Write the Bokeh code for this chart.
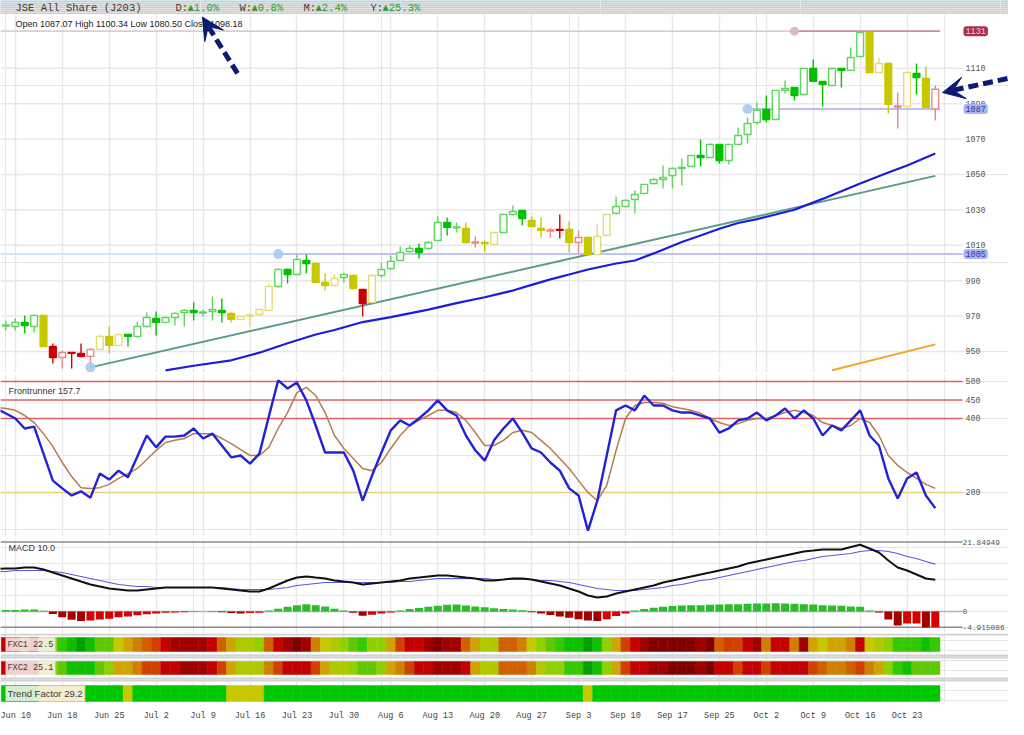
import numpy as np
from bokeh.plotting import figure
from bokeh.layouts import column
from bokeh.models import (Range1d, LinearAxis, FixedTicker, Label, Arrow, VeeHead,
                          Span, Grid)
from bokeh.embed import file_html
from bokeh.resources import INLINE
from bokeh.core.properties import value

# ---------------- data ----------------
tick_bars = [1, 6, 11, 16, 21, 26, 31, 36, 41, 46, 51, 56, 61, 66, 71, 76, 81, 86, 91, 96]
tick_labels = ["Jun 10", "Jun 18", "Jun 25", "Jul 2", "Jul 9", "Jul 16", "Jul 23", "Jul 30",
               "Aug 6", "Aug 13", "Aug 20", "Aug 27", "Sep 3", "Sep 10", "Sep 17", "Sep 25",
               "Oct 2", "Oct 9", "Oct 16", "Oct 23"]

opens = [964.7, 964.1, 966.4, 964.1, 970.3, 952.8, 946.6, 949.4, 948.9, 947.2,
         951.1, 958.5, 953.4, 959.6, 958.5, 964.1, 968.6, 966.4, 969.2, 972.0,
         973.2, 972.0, 972.6, 973.2, 971.5, 968.1, 970.3, 970.9, 973.2, 986.7,
         996.3, 993.5, 1001.4, 999.7, 989.0, 987.3, 991.8, 992.9, 985.0, 977.7,
         992.9, 996.9, 1001.4, 1006.5, 1008.2, 1008.2, 1012.7, 1022.9, 1020.1, 1019.5,
         1011.6, 1011.6, 1010.5, 1017.2, 1027.4, 1029.7, 1024.0, 1019.5, 1018.4, 1018.9,
         1018.9, 1011.6, 1014.4, 1004.8, 1015.5, 1028.0, 1031.9, 1035.9, 1039.3, 1044.9,
         1047.2, 1049.4, 1053.4, 1054.5, 1060.7, 1059.6, 1067.0, 1057.9, 1067.0, 1072.6,
         1079.4, 1086.7, 1081.1, 1097.5, 1099.2, 1095.2, 1109.9, 1102.6, 1100.3, 1109.9,
         1108.8, 1116.7, 1130.2, 1107.6, 1112.7, 1088.4, 1088.4, 1107.1, 1104.2, 1087.07]
highs = [967.5, 968.6, 970.3, 970.9, 970.3, 954.5, 950.6, 949.5, 954.5, 951.7,
         959.6, 964.1, 960.2, 959.6, 966.9, 972.0, 972.6, 969.8, 972.0, 973.7,
         977.7, 973.7, 981.1, 979.9, 972.0, 969.8, 971.5, 973.7, 988.4, 996.9,
         996.9, 1004.8, 1004.8, 999.7, 994.1, 993.5, 994.1, 993.5, 985.0, 993.5,
         1000.3, 1004.2, 1009.3, 1009.9, 1011.0, 1012.2, 1026.3, 1025.7, 1022.9, 1022.9,
         1015.0, 1012.7, 1017.2, 1028.0, 1032.5, 1029.7, 1026.3, 1025.7, 1020.1, 1027.4,
         1023.5, 1018.4, 1015.0, 1022.3, 1027.4, 1037.6, 1035.9, 1041.0, 1044.4, 1047.7,
         1055.1, 1054.0, 1059.0, 1060.7, 1069.8, 1067.5, 1067.0, 1067.0, 1076.6, 1082.2,
         1090.7, 1094.6, 1097.5, 1103.1, 1099.2, 1109.9, 1115.0, 1102.6, 1110.5, 1109.9,
         1121.8, 1131.0, 1130.2, 1116.1, 1113.3, 1096.3, 1107.6, 1112.7, 1111.0, 1100.34]
lows = [961.9, 961.9, 960.2, 960.7, 952.8, 943.2, 940.4, 940.4, 946.6, 941.0,
        950.6, 948.9, 952.8, 952.8, 957.9, 963.6, 959.0, 965.8, 964.7, 964.1,
        967.5, 969.8, 967.5, 966.4, 966.4, 967.5, 964.1, 970.3, 972.6, 986.2,
        988.4, 993.5, 994.1, 989.0, 984.5, 986.7, 989.0, 985.0, 969.8, 977.1,
        991.8, 996.3, 1001.4, 1005.9, 1002.5, 1007.6, 1012.2, 1015.5, 1017.2, 1011.0,
        1008.8, 1005.9, 1010.5, 1017.2, 1026.8, 1021.2, 1020.6, 1014.4, 1014.4, 1013.8,
        1005.9, 1005.4, 1004.8, 1004.8, 1015.5, 1027.4, 1031.9, 1028.0, 1038.7, 1044.4,
        1042.1, 1042.1, 1043.8, 1054.5, 1054.5, 1059.6, 1056.2, 1055.7, 1066.4, 1067.5,
        1078.3, 1079.4, 1081.1, 1095.8, 1091.8, 1094.6, 1102.6, 1088.4, 1100.3, 1099.2,
        1108.8, 1116.7, 1107.6, 1107.1, 1084.5, 1076.0, 1088.4, 1095.2, 1087.9, 1080.50]
closes = [964.7, 966.4, 964.7, 970.3, 952.8, 946.6, 949.4, 948.9, 947.2, 951.1,
          958.5, 953.4, 959.6, 958.5, 964.1, 969.2, 966.4, 969.2, 971.5, 973.2,
          972.0, 972.0, 973.7, 972.0, 968.1, 969.8, 970.3, 973.7, 986.7, 996.3,
          993.5, 1002.0, 999.7, 989.0, 987.3, 991.2, 993.5, 985.6, 977.1, 992.9,
          996.3, 1000.9, 1005.9, 1008.2, 1005.9, 1011.6, 1022.9, 1020.1, 1020.1, 1011.6,
          1011.6, 1011.0, 1017.2, 1027.4, 1029.1, 1025.1, 1020.6, 1018.4, 1018.4, 1018.4,
          1011.6, 1014.4, 1004.8, 1015.0, 1027.4, 1031.9, 1035.3, 1038.7, 1044.4, 1047.2,
          1048.3, 1053.4, 1054.0, 1060.7, 1059.6, 1067.0, 1057.9, 1067.0, 1072.0, 1078.8,
          1086.2, 1081.1, 1097.5, 1098.6, 1094.6, 1109.9, 1102.6, 1100.9, 1109.9, 1108.8,
          1116.1, 1130.2, 1107.6, 1112.7, 1089.6, 1088.4, 1107.6, 1104.8, 1087.9, 1098.18]
candle_state = list("gggg" "y" "rrrrr" "yyy" "ggggggggggg" "yyyyy" "gggg" "yyy" "g" "y" "r" "y"
                    "ggggggggg" "y" "r" "yy" "ggg" "yy" "rr" "y" "r" "yyy" + "g" * 27 +
                    "yyy" "r" "y" "g" "y" "r")

ma_bars = [17, 20, 24, 27, 30, 33, 35, 38, 41, 45, 48, 51, 54, 56, 58, 60, 62, 65, 67,
           69, 72, 74, 76, 78, 80, 82, 84, 87, 89, 91, 94, 96, 99]
ma_vals = [939.3, 941.9, 945.0, 949.3, 954.6, 959.6, 962.1, 966.6, 969.4, 973.6, 977.3,
           980.6, 984.4, 987.6, 990.7, 993.5, 996.3, 999.7, 1001.4, 1005.4, 1011.8, 1015.5,
           1019.3, 1022.6, 1024.8, 1027.4, 1030.1, 1036.2, 1040.5, 1044.9, 1051.1, 1055.1, 1061.9]
trend_bars = [9, 99]
trend_vals = [941.0, 1049.2]
orange_bars = [88, 99]
orange_vals = [939.4, 954.0]
level_vals = [1131, 1087, 1005]
level_from = [84, 79, 29]
price_ticks = [950, 970, 990, 1010, 1030, 1050, 1070, 1090, 1110]

fr_bars = list(range(-1, 100))
fr_blue = [427, 413.5, 400, 373, 378, 305, 232, 211, 192, 203, 186,
           251, 235, 259, 241, 297, 354, 322, 351, 351, 354,
           373, 346, 359, 327, 295, 300, 278, 305, 405, 503,
           481, 497, 449, 381, 308, 308, 308, 259, 178, 246,
           308, 368, 395, 381, 400, 422, 449, 422, 408, 354,
           314, 286, 341, 373, 400, 362, 319, 308, 281, 259,
           211, 192, 97, 178, 300, 422, 435, 422, 462, 435,
           435, 422, 416, 416, 408, 400, 362, 373, 395, 400,
           416, 395, 408, 427, 400, 422, 400, 354, 381, 368,
           395, 422, 354, 327, 238, 184, 238, 254, 192, 157.7]
fr_brown = [430, 427, 422, 408, 389, 359, 324, 281, 243, 213, 211,
            213, 222, 238, 251, 265, 289, 314, 335, 341, 346,
            359, 359, 359, 346, 332, 316, 300, 300, 322, 373,
            416, 470, 484, 462, 416, 354, 319, 292, 265, 259,
            281, 319, 354, 381, 395, 408, 422, 422, 416, 395,
            362, 327, 327, 341, 362, 368, 362, 341, 319, 292,
            265, 232, 200, 178, 219, 314, 400, 435, 443, 443,
            441, 432, 427, 422, 414, 400, 389, 381, 386, 395,
            400, 400, 408, 416, 422, 416, 408, 389, 381, 373,
            381, 400, 389, 354, 300, 273, 254, 238, 222, 211]
fr_levels_red = [500, 450, 400]
fr_level_yellow = 200

macd_line = [13.4, 13.52, 13.52, 13.84, 13.84, 13.21, 12.26, 11.32, 10.38, 9.43, 8.49,
             7.86, 7.23, 6.92, 6.60, 6.60, 6.92, 7.23, 7.55, 7.55, 7.55,
             7.55, 7.55, 7.55, 7.23, 6.92, 6.60, 6.29, 6.29, 7.23, 8.49,
             9.75, 10.69, 11.01, 10.69, 10.38, 9.75, 9.43, 9.12, 8.49, 8.81,
             9.12, 9.43, 9.75, 10.38, 10.69, 11.01, 11.32, 11.32, 11.01, 10.69,
             10.38, 9.75, 9.75, 10.06, 10.38, 10.38, 10.06, 9.43, 8.81, 8.18,
             7.23, 6.29, 5.03, 4.40, 4.72, 5.66, 6.29, 6.92, 7.55, 8.18,
             9.12, 9.75, 10.38, 11.01, 11.64, 12.26, 12.89, 13.52, 14.15, 15.09,
             15.72, 16.35, 16.98, 17.61, 18.24, 18.87, 19.18, 19.50, 19.50, 19.50,
             20.30, 21.0, 19.81, 18.55, 16.04, 13.84, 12.89, 11.64, 10.38, 10.0]
macd_signal = [12.5, 12.58, 12.89, 12.89, 12.89, 12.89, 12.58, 12.26, 11.64, 11.01, 10.38,
               9.75, 9.12, 8.49, 8.18, 7.86, 7.86, 7.55, 7.55, 7.55, 7.55,
               7.55, 7.55, 7.55, 7.55, 7.23, 6.92, 6.92, 6.92, 6.92, 7.23,
               7.55, 8.18, 8.49, 8.81, 9.12, 9.12, 9.12, 9.12, 9.12, 9.12,
               9.12, 9.12, 9.43, 9.43, 9.75, 10.06, 10.38, 10.38, 10.38, 10.38,
               10.38, 10.38, 10.06, 10.06, 10.06, 10.06, 10.06, 9.75, 9.75, 9.43,
               9.12, 8.49, 7.86, 7.23, 6.92, 6.60, 6.60, 6.60, 6.92, 7.23,
               7.55, 8.18, 8.49, 9.12, 9.75, 10.06, 10.69, 11.32, 11.95, 12.58,
               13.21, 13.84, 14.47, 15.09, 15.72, 16.04, 16.67, 17.30, 17.61, 17.92,
               18.24, 18.87, 19.18, 19.18, 18.87, 18.24, 17.30, 16.67, 15.72, 14.9]
macd_hist = [0.5, 0.5, 0.6, 0.6, 0.2, -0.8, -1.8, -2.6, -3.0, -2.8,
             -2.5, -2.3, -1.8, -1.6, -1.2, -0.9, -0.6, -0.4, -0.3, -0.2,
             -0.1, 0.0, -0.1, -0.2, -0.5, -0.6, -0.5, -0.4, 0.3, 0.9,
             1.5, 2.0, 2.3, 2.0, 1.6, 0.9, 0.3, -0.4, -1.3, -1.0,
             -0.6, -0.3, 0.3, 0.8, 1.1, 1.5, 1.8, 2.1, 2.2, 1.9,
             1.6, 1.3, 1.0, 0.8, 0.6, 0.4, -0.2, -0.6, -1.1, -1.6,
             -2.0, -2.4, -2.8, -3.0, -2.4, -1.4, -0.6, 0.3, 0.8, 1.2,
             1.5, 1.7, 1.9, 2.0, 2.0, 2.1, 2.2, 2.3, 2.3, 2.4,
             2.5, 2.5, 2.6, 2.5, 2.4, 2.3, 2.2, 2.0, 1.9, 1.8,
             1.6, 1.5, 0.3, -0.3, -2.5, -4.4, -3.8, -3.8, -5.05, -4.915086]
macd_ticks = [21.84949, 0, -4.915086]
macd_tick_text = ["21.84949", "0", "-4.915086"]

# heat strips: level 0 = darkest red ... 13 = darkest green
fxc1 = [2, 2, 4, 2, 7, 9, 11, 12, 13, 12, 10, 10, 7, 6, 5, 4, 3, 2, 1, 1,
        1, 1, 2, 4, 6, 8, 8, 9, 4, 2, 1, 0, 1, 5, 7, 8, 9, 10, 11, 9,
        9, 6, 3, 2, 2, 1, 0, 1, 1, 4, 6, 8, 8, 4, 4, 5, 7, 9, 10, 11,
        12, 12, 13, 12, 9, 6, 3, 2, 1, 0, 0, 0, 0, 0, 1, 0, 4, 3, 3, 2,
        1, 5, 2, 2, 5, 1, 6, 7, 6, 6, 5, 2, 7, 8, 9, 11, 11, 11, 12, 11]
fxc2 = [2, 2, 2, 2, 7, 9, 10, 12, 12, 12, 10, 9, 6, 6, 5, 3, 3, 2, 2, 1,
        1, 1, 2, 3, 6, 8, 8, 8, 5, 3, 2, 2, 2, 3, 6, 8, 8, 9, 10, 10,
        9, 6, 5, 3, 2, 2, 1, 1, 1, 2, 6, 8, 8, 4, 4, 4, 5, 8, 9, 9,
        11, 11, 13, 12, 9, 6, 3, 2, 2, 1, 1, 0, 0, 0, 1, 0, 2, 2, 3, 2,
        2, 3, 2, 2, 2, 2, 3, 4, 5, 5, 4, 3, 5, 6, 9, 11, 12, 10, 10, 10]
trend_factor = [1, 1, 1, 1, 0, 0, 0, 0, 0, 1, 1, 1, 1, 0, 1, 1, 1, 1, 1, 1,
                1, 1, 1, 1, 0, 0, 0, 0, 1, 1, 1, 1, 1, 1, 1, 1, 1, 1, 1, 1,
                1, 1, 1, 1, 1, 1, 1, 1, 1, 1, 1, 1, 1, 1, 1, 1, 1, 1, 1, 1,
                1, 1, 0, 1, 1, 1, 1, 1, 1, 1, 1, 1, 1, 1, 1, 1, 1, 1, 1, 1,
                1, 1, 1, 1, 1, 1, 1, 1, 1, 1, 1, 1, 1, 1, 1, 1, 1, 1, 1, 1]

# ---------------- layout constants ----------------
W = 1008
PLOT_W = 962                       # width of the drawing area left of the value labels
X0, X1 = -0.58, 101.9              # bar-index span of the drawing area
PPB = PLOT_W / (X1 - X0)
XF = X0 + W / PPB                  # bar-index at the right edge of the page


def px(xpix):
    return X0 + xpix / PPB


LX = px(965)                       # where the right-hand value labels start
MONO = "Liberation Mono"
SANS = "Liberation Sans"
GRID = "#e8e8e8"
HEAT = ["#800000", "#a00000", "#c40000", "#d04000", "#d06000", "#d08000", "#d0a400",
        "#c8c800", "#b0c800", "#90d000", "#60c800", "#34c800", "#10c000", "#00a000"]


def panel(frame_h, y0, y1):
    f = figure(frame_width=W, frame_height=frame_h,
               x_range=Range1d(X0, XF), y_range=Range1d(y0, y1),
               output_backend="svg", toolbar_location=None,
               x_axis_location=None, y_axis_location=None, min_border=0)
    f.outline_line_color = None
    f.background_fill_color = "white"
    f.border_fill_color = "white"
    f.add_layout(Grid(dimension=0, ticker=FixedTicker(ticks=tick_bars),
                      grid_line_color=GRID, grid_line_width=1.5))
    return f


def value_labels(f, ys, texts, size="8.3px", x=LX):
    f.text(x=[x] * len(ys), y=ys, text=texts, text_font=value(MONO),
           text_font_size=size, text_color="#555555", text_baseline="middle")


def hlines(f, ys, colors, width=1.5, x_start=X0, x_end=X1):
    f.segment(x0=[x_start] * len(ys), y0=ys, x1=[x_end] * len(ys), y1=ys,
              line_color=colors, line_width=width)


def separator(h):
    s = figure(frame_width=W, frame_height=h, x_range=Range1d(0, 1), y_range=Range1d(0, 1),
               output_backend="svg", toolbar_location=None,
               x_axis_location=None, y_axis_location=None, min_border=0)
    s.outline_line_color = None
    s.background_fill_color = "#cfcfcf"
    s.border_fill_color = "#cfcfcf"
    return s


# ---------------- header ----------------
hdr = figure(frame_width=W, frame_height=14, x_range=Range1d(0, W), y_range=Range1d(0, 14),
             output_backend="svg", toolbar_location=None,
             x_axis_location=None, y_axis_location=None, min_border=0)
hdr.outline_line_color = None
hdr.background_fill_color = "#a9d5e5"
hdr.border_fill_color = "#a9d5e5"
hdr_x = [15, 175, 187, 239, 251, 303, 315, 370, 382]
hdr_t = ["JSE All Share (J203)", "D:", "\u25B21.0%", "W:", "\u25B20.8%", "M:", "\u25B22.4%", "Y:", "\u25B225.3%"]
hdr_c = ["#3c3c3c", "#3c3c3c", "#2f9a3a", "#3c3c3c", "#2f9a3a", "#3c3c3c", "#2f9a3a", "#3c3c3c", "#2f9a3a"]
hdr.text(x=hdr_x, y=[7] * len(hdr_x), text=hdr_t, text_color=hdr_c,
         text_font=value(MONO), text_font_size="10.5px", text_baseline="middle")

# ---------------- main price panel ----------------
main = panel(358, 938.1, 1140.4)
hlines(main, price_ticks, GRID)
value_labels(main, price_ticks, [str(t) for t in price_ticks])

# support / resistance levels
main.segment(x0=[X0, level_from[0]], y0=[level_vals[0]] * 2, x1=[level_from[0], 99.5],
             y1=[level_vals[0]] * 2, line_color=["#dccdd5", "#c98e9d"], line_width=1.6)
main.segment(x0=[level_from[1]], y0=[level_vals[1]], x1=[99.5], y1=[level_vals[1]],
             line_color="#aaaaf2", line_width=1.6)
main.segment(x0=[X0, level_from[2]], y0=[level_vals[2]] * 2, x1=[level_from[2], X1],
             y1=[level_vals[2]] * 2, line_color=["#d4e6f4", "#c0c2f4"], line_width=2)

# moving average / trend lines
main.line(trend_bars, trend_vals, line_color="#5c9c86", line_width=2)
main.line(ma_bars, ma_vals, line_color="#1c1ce0", line_width=2.2)
main.line(orange_bars, orange_vals, line_color="#f2a424", line_width=2)

# candles
strong = {"g": "#00c000", "y": "#c8c800", "r": "#cc0000"}
light = {"g": "#5ed65e", "y": "#e2dc74", "r": "#e88888"}
o = np.array(opens)
c = np.array(closes)
idx = np.arange(len(opens))
up = c >= o
top = np.maximum(o, c)
bot = np.minimum(o, c)
mid = (top + bot) / 2
thin = (top - bot) < 0.5
top = np.where(thin, mid + 0.3, top)
bot = np.where(thin, mid - 0.3, bot)
wick_col = [light[s] if u else strong[s] for s, u in zip(candle_state, up)]
fill_col = ["white" if u else strong[s] for s, u in zip(candle_state, up)]
main.segment(x0=idx, y0=lows, x1=idx, y1=highs, line_color=wick_col, line_width=1.4)
main.vbar(x=idx, width=0.72, top=top, bottom=bot, fill_color=fill_col,
          line_color=wick_col, line_width=1.4)

# anchor dots
main.scatter(x=[trend_bars[0], level_from[2], level_from[1]],
             y=[trend_vals[0], level_vals[2], level_vals[1]],
             size=10, fill_color="#a9c9f2", line_color=None, fill_alpha=0.9)
main.scatter(x=[level_from[0]], y=[level_vals[0]], size=9, fill_color="#d9b9c6", line_color=None)

# level price boxes on the right
for lvl, bg, fg in [(level_vals[0], "#a8304f", "#f6cad4"),
                    (level_vals[1], "#aab4f6", "#2a3a9a"),
                    (level_vals[2], "#aab4f6", "#2a3a9a")]:
    main.add_layout(Label(x=LX, y=lvl, text=str(lvl), x_offset=-2,
                          text_font=MONO, text_font_size="8.5px", text_color=fg,
                          text_baseline="middle", background_fill_color=bg,
                          border_radius=3, padding=2))

main.add_layout(Label(x=15, x_units="screen", y=1135.3,
                      text=f"Open {opens[-1]:.2f} High {highs[-1]:.2f} Low {lows[-1]:.2f} Close {closes[-1]:.2f}",
                      text_font=SANS, text_font_size="9px", text_color="#222222",
                      text_baseline="middle"))

NAVY = "#0c1a72"
main.add_layout(Arrow(x_start=px(237), y_start=1107.1, x_end=px(202), y_end=1138.9,
                      line_color=NAVY, line_width=5, line_dash="10 5",
                      end=VeeHead(size=22, fill_color=NAVY, line_color=NAVY)))
main.add_layout(Arrow(x_start=px(1007), y_start=1104.2, x_end=px(942), y_end=1096.3,
                      line_color=NAVY, line_width=5, line_dash="10 5",
                      end=VeeHead(size=22, fill_color=NAVY, line_color=NAVY)))

# ---------------- frontrunner panel ----------------
front = panel(162, 81.0, 518.9)
hlines(front, fr_levels_red, "#e06060")
hlines(front, [fr_level_yellow], "#e8d27a")
value_labels(front, [fr_level_yellow] + fr_levels_red,
             [str(v) for v in [fr_level_yellow] + fr_levels_red])
front.line(fr_bars, fr_brown, line_color="#b47c55", line_width=1.5)
front.line(fr_bars, fr_blue, line_color="#2222d8", line_width=2.4)
front.add_layout(Label(x=8, x_units="screen", y=473, text=f"Frontrunner {fr_blue[-1]}",
                       text_font=SANS, text_font_size="9px", text_color="#333333",
                       text_baseline="middle"))

# ---------------- MACD panel (extends 3px lower so the bottom label is not clipped) ----------------
macd = panel(95, -6.92, 22.96)
hlines(macd, macd_ticks, ["#8a8a8a", "#b4b4b4", "#8a8a8a"])
value_labels(macd, macd_ticks, macd_tick_text, size="7.8px", x=px(962))
hist_col = []
for i, h in enumerate(macd_hist):
    prev = macd_hist[i - 1] if i > 0 else h
    if h >= 0:
        hist_col.append("#2cbc2c")
    else:
        hist_col.append("#a40000" if h < prev else "#d80000")
macd.vbar(x=idx, width=0.85, top=np.maximum(macd_hist, 0), bottom=np.minimum(macd_hist, 0),
          fill_color=hist_col, line_color=None)
macd.line(fr_bars, macd_signal, line_color="#5858e0", line_width=1.2)
macd.line(fr_bars, macd_line, line_color="#111111", line_width=2)
macd.add_layout(Label(x=8, x_units="screen", y=20.1, text=f"MACD {macd_line[-1]:.1f}",
                      text_font=SANS, text_font_size="9px", text_color="#333333",
                      text_baseline="middle"))

# ---------------- heat strips + date axis ----------------
strips = panel(69, 72, 3)
for loc in [3.9, 25, 27, 48, 50]:
    strips.add_layout(Span(location=loc, dimension="width", line_color="#d2d2d2", line_width=2))
c1 = [HEAT[v] for v in fxc1]
c2 = [HEAT[v] for v in fxc2]
ct = ["#00c800" if v else "#c8c800" for v in trend_factor]
strips.vbar(x=idx, width=1, bottom=7, top=21, fill_color=c1, line_color=c1, line_width=0.5)
strips.vbar(x=idx, width=1, bottom=31, top=44, fill_color=c2, line_color=c2, line_width=0.5)
strips.vbar(x=idx, width=1, bottom=55, top=71, fill_color=ct, line_color=ct, line_width=0.5)
for txt, yy, fnt, fs in [("FXC1 22.5", 14, MONO, "8.5px"), ("FXC2 25.1", 37.5, MONO, "8.5px"),
                         ("Trend Factor 29.2", 63, SANS, "9.5px")]:
    strips.add_layout(Label(x=5, x_units="screen", y=yy, text=txt, text_font=fnt,
                            text_font_size=fs, text_color="#3a3a3a", text_baseline="middle",
                            background_fill_color="#fbf4f4", background_fill_alpha=0.85,
                            padding=2))
xax = LinearAxis(ticker=FixedTicker(ticks=tick_bars),
                 major_label_overrides={b: l for b, l in zip(tick_bars, tick_labels)},
                 axis_line_color=None, major_tick_line_color=None, minor_tick_line_color=None,
                 major_label_text_font=MONO, major_label_text_font_size="8.5px",
                 major_label_text_color="#444444", major_label_standoff=2)
strips.add_layout(xax, "below")

p = column(hdr, main, separator(2), front, separator(2), macd, strips, spacing=0)

open("out.html", "w").write(file_html(p, INLINE))
